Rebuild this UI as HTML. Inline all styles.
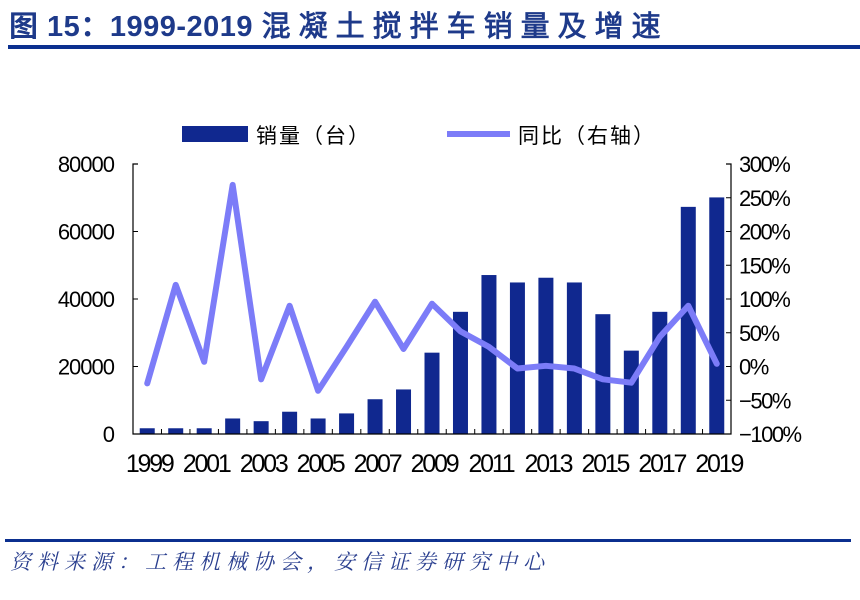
<!DOCTYPE html>
<html><head><meta charset="utf-8"><style>
body{margin:0;width:860px;height:600px;background:#fff;overflow:hidden;position:relative;font-family:"Liberation Sans","Noto Sans CJK SC",sans-serif}
.title{position:absolute;left:9px;top:3px;font-size:29px;font-weight:bold;color:#1e3a8a;white-space:nowrap;letter-spacing:0.5px}
.title .cn{letter-spacing:8px;font-weight:normal;-webkit-text-stroke:0.8px #1e3a8a}
.rule{position:absolute;background:#0b2f8f;height:4px}
.src{position:absolute;left:10px;top:546px;font-size:21px;font-style:italic;color:#2a3f8f;font-family:"Liberation Serif","Noto Serif CJK SC",serif;letter-spacing:6px;white-space:nowrap}
</style></head><body>
<div class="title">图 15：1999-2019 <span class="cn">混凝土搅拌车销量及增速</span></div>
<div class="rule" style="left:8px;top:45px;width:852px"></div>
<svg id="chart" width="860" height="600" style="position:absolute;left:0;top:0"></svg>
<div class="rule" style="left:5px;top:539px;width:846px;height:3px"></div>
<div class="src">资料来源：工程机械协会，安信证券研究中心</div>
<script>
const years=[1999,2000,2001,2002,2003,2004,2005,2006,2007,2008,2009,2010,2011,2012,2013,2014,2015,2016,2017,2018,2019];
const sales=[1700,1700,1700,4600,3800,6600,4600,6100,10300,13200,24100,36200,47100,44900,46300,44900,35500,24700,36200,67300,70100];
const growth=[-25,121,7,269,-19,90,-36,29,96,26,93,52,29,-3,1,-3,-19,-24,44,90,4];
const leftTicks=[0,20000,40000,60000,80000];
const rightTicks=[-100,-50,0,50,100,150,200,250,300];
const xLabels=[1999,2001,2003,2005,2007,2009,2011,2013,2015,2017,2019];

const NS='http://www.w3.org/2000/svg';
const svg=document.getElementById('chart');
const X0=133,X1=731,YT=164,YB=434;
const step=(X1-X0)/years.length;
const xC=i=>X0+step*(i+0.5);
const yL=v=>YB-(v/80000)*(YB-YT);
const yR=v=>YB-((v+100)/400)*(YB-YT);
function mk(t,a){const e=document.createElementNS(NS,t);for(const k in a)e.setAttribute(k,a[k]);svg.appendChild(e);return e;}
const font='"Liberation Sans","Noto Sans CJK SC",sans-serif';

sales.forEach((v,i)=>{
  const r=mk('rect',{x:xC(i)-7.5,y:yL(v),width:15,height:YB-yL(v),fill:'#10288f'});
  
  
});
const pl=mk('polyline',{points:growth.map((g,i)=>xC(i)+','+yR(g)).join(' '),fill:'none',stroke:'#7c7cf8','stroke-width':6,'stroke-linejoin':'round','stroke-linecap':'round'});



const ax=mk('path',{d:`M${X0+5},${YT}H${X0}V${YB}H${X1}V${YT}H${X1-5}`,fill:'none',stroke:'#000','stroke-width':1.2});


leftTicks.forEach(v=>{
  mk('line',{x1:X0,x2:X0+5,y1:yL(v),y2:yL(v),stroke:'#000'});
  const t=mk('text',{x:X0-19,y:yL(v)+8,'text-anchor':'end','font-size':22,'font-family':font,'letter-spacing':'-1'});
  t.textContent=v;
  
  
});
rightTicks.forEach(v=>{
  mk('line',{x1:X1-5,x2:X1,y1:yR(v),y2:yR(v),stroke:'#000'});
  const t=mk('text',{x:X1+8,y:yR(v)+8,'font-size':22,'font-family':font,'letter-spacing':'-1.5'});
  t.textContent=(v<0?'−':'')+Math.abs(v)+'%';
  
  
});
for(let i=0;i<=years.length;i++){mk('line',{x1:X0+step*i,x2:X0+step*i,y1:YB,y2:YB-5,stroke:'#000'});}
years.forEach((y,i)=>{
  if(!xLabels.includes(y))return;
  const t=mk('text',{x:xC(i)+2,y:YB+38,'text-anchor':'middle','font-size':25,'font-family':font,'letter-spacing':'-2.2'});
  t.textContent=y;
  
  
});
const lb=mk('rect',{x:182,y:126,width:66,height:16,fill:'#10288f'});


const lt=mk('text',{x:256,y:143,'font-size':21,'font-family':font,'letter-spacing':'2'});
lt.textContent='销量（台）';


const ll=mk('line',{x1:447,x2:510,y1:134,y2:134,stroke:'#7c7cf8','stroke-width':6});


const lt2=mk('text',{x:518,y:143,'font-size':21,'font-family':font,'letter-spacing':'2'});
lt2.textContent='同比（右轴）';


</script>
</body></html>
